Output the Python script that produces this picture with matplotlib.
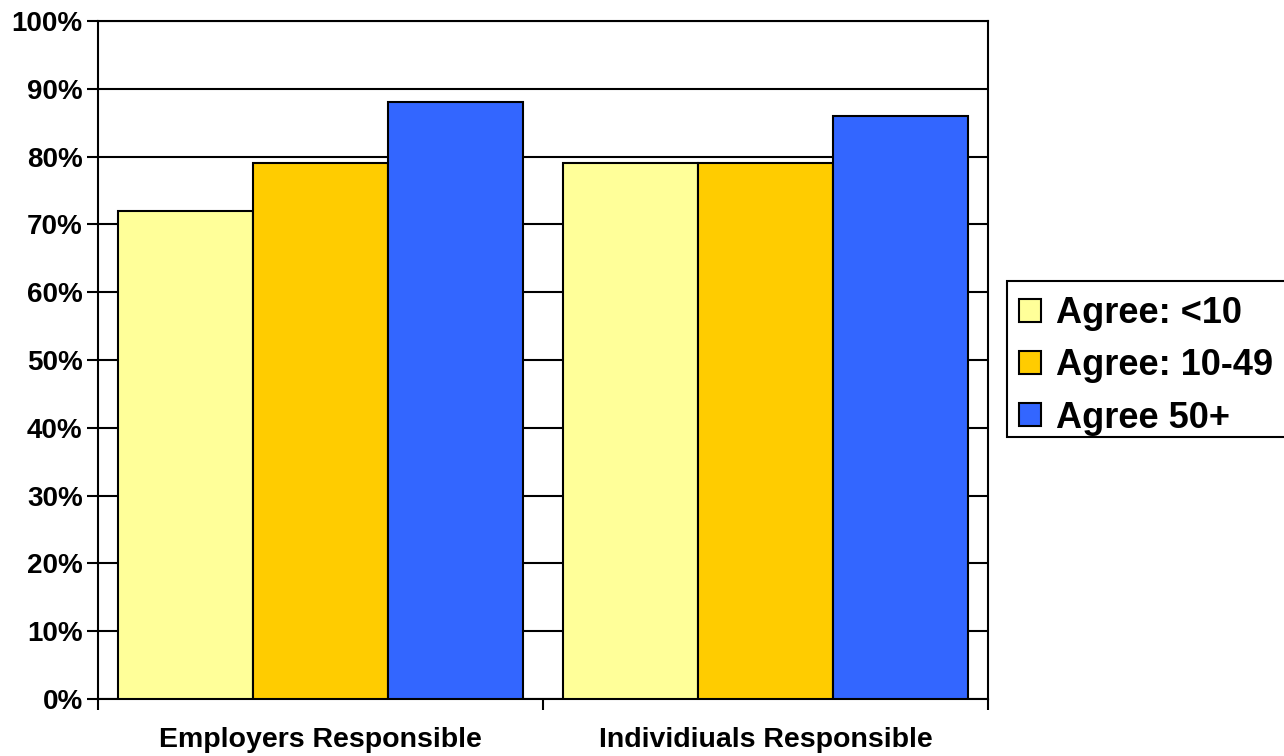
import matplotlib
matplotlib.use("Agg")
import matplotlib.pyplot as plt
import numpy as np
from matplotlib.patches import Patch, Rectangle

categories = ["Employers Responsible", "Individiuals Responsible"]
series_names = ["Agree: <10", "Agree: 10-49", "Agree 50+"]
agree_lt10 = [72, 79]
agree_10_49 = [79, 79]
agree_50p = [88, 86]
series_values = [agree_lt10, agree_10_49, agree_50p]
colors = ["#FFFF99", "#FFCC00", "#3366FF"]
yticks = [0, 10, 20, 30, 40, 50, 60, 70, 80, 90, 100]
ytick_labels = [f"{v}%" for v in yticks]

plt.rcParams['font.family'] = ['Liberation Sans', 'DejaVu Sans']
plt.rcParams['font.weight'] = 'bold'

W, H = 1284, 756
fig = plt.figure(figsize=(W / 100, H / 100), dpi=100)
ax = fig.add_axes([98/W, 57/H, 890/W, 678/H])

x = np.arange(len(categories))
bw = 0.3035
for i, (name, vals, c) in enumerate(zip(series_names, series_values, colors)):
    ax.bar(x + (i - 1) * bw, vals, width=bw, color=c, edgecolor='black',
           linewidth=1.5, zorder=3, label=name)

ax.set_xlim(-0.5, 1.5)
ax.set_ylim(0, 100)
ax.set_yticks(yticks)
ax.set_yticklabels(ytick_labels, fontsize=20, fontweight='bold')
ax.yaxis.grid(True, color='black', linewidth=1.5, zorder=0)
ax.set_axisbelow(True)

ax.set_xticks([-0.5, 0.5, 1.5])
ax.set_xticklabels([])
ax.set_xticks(x, minor=True)
ax.set_xticklabels(categories, minor=True, fontsize=20.5, fontweight='bold')
ax.tick_params(axis='x', which='major', direction='out', length=8, width=1.5)
ax.tick_params(axis='x', which='minor', length=0, pad=20.5)
ax.tick_params(axis='y', direction='out', length=8, width=1.5, pad=3)

for s in ax.spines.values():
    s.set_linewidth(1.5)
    s.set_color('black')

# legend frame (extends past the right edge as in the reference)
frame = Rectangle((1007/W, (H - 437)/H), 300/W, 156/H, transform=fig.transFigure,
                  facecolor='white', edgecolor='black', linewidth=1.5,
                  clip_on=False, zorder=1)
fig.patches.append(frame)

handles = [Patch(facecolor=c, edgecolor='black', linewidth=1.5) for c in colors]
leg = fig.legend(handles, series_names, loc='upper left',
                 bbox_to_anchor=(1008/W, (H - 285)/H),
                 prop={'family': 'Liberation Sans', 'weight': 'bold', 'size': 26},
                 frameon=False,
                 handlelength=0.6, handleheight=0.6, handletextpad=0.44,
                 labelspacing=0.48, borderpad=0.3, borderaxespad=0)
leg.set_zorder(2)

fig.savefig("out.png", dpi=100)
